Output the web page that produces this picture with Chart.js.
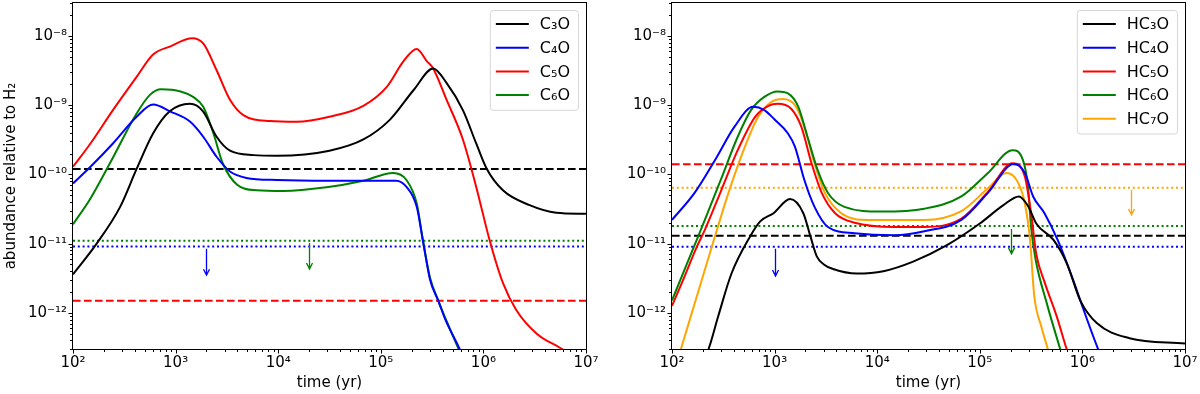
<!DOCTYPE html>
<html>
<head>
<meta charset="utf-8">
<script src="https://cdn.jsdelivr.net/npm/chart.js@4.4.1/dist/chart.umd.min.js"></script>
<style>
  html, body { margin: 0; padding: 0; background: #fff; }
  #wrap { position: relative; width: 1200px; height: 394px; }
  canvas { position: absolute; top: 0; }
</style>
</head>
<body>
<div id="wrap">
  <canvas id="left" width="600" height="394" style="left:0"></canvas>
  <canvas id="right" width="600" height="394" style="left:600px"></canvas>
</div>
<script>
// axes
const xMin = 1e2, xMax = 1e7;
const yMin = 3e-13, yMax = 3e-8;
const xTicks = [1e2, 1e3, 1e4, 1e5, 1e6, 1e7];
const yTicks = [1e-12, 1e-11, 1e-10, 1e-9, 1e-8];

// left panel: C3O..C6O
const leftLabels = ['C₃O', 'C₄O', 'C₅O', 'C₆O'];
const c3oT = [100, 170, 288, 417, 603, 871, 1380, 1860, 2510, 3390, 5750, 9800, 31600, 67600, 123000, 209000, 324000, 437000, 631000, 851000, 1070000, 1550000, 2820000, 5130000, 1e7];
const c3oY = [3.6e-12, 1.0e-11, 3.4e-11, 1.2e-10, 3.9e-10, 8.1e-10, 1.05e-9, 8.1e-10, 3.5e-10, 2.2e-10, 1.9e-10, 1.86e-10, 2.2e-10, 3.2e-10, 6.2e-10, 1.66e-9, 3.4e-9, 2.1e-9, 8.5e-10, 2.8e-10, 1.23e-10, 5.9e-11, 3.6e-11, 2.8e-11, 2.7e-11];
const c4oT = [100, 148, 245, 417, 603, 891, 1380, 1860, 2510, 3390, 4900, 9800, 31600, 141000, 178000, 224000, 257000, 302000, 363000, 427000, 575000, 708000];
const c4oY = [7.4e-11, 1.29e-10, 2.8e-10, 6.8e-10, 1.02e-9, 8.1e-10, 5.8e-10, 3.5e-10, 1.8e-10, 1.1e-10, 8.9e-11, 8.3e-11, 8.1e-11, 8.1e-11, 6.6e-11, 3.4e-11, 1.12e-11, 3.0e-12, 1.5e-12, 7.9e-13, 3.2e-13, 1.6e-13];
const c5oT = [100, 148, 245, 417, 603, 891, 1450, 1860, 2510, 3390, 4570, 8300, 15100, 31600, 67600, 115000, 166000, 224000, 282000, 324000, 437000, 631000, 851000, 1150000, 1550000, 2090000, 3310000, 5620000, 1e7];
const c5oY = [1.29e-10, 2.8e-10, 8.5e-10, 2.57e-9, 5.4e-9, 7.1e-9, 9.3e-9, 7.8e-9, 3.2e-9, 1.2e-9, 7.2e-10, 5.9e-10, 5.75e-10, 6.8e-10, 9.8e-10, 1.86e-9, 4.3e-9, 6.5e-9, 4.3e-9, 3.4e-9, 1.2e-9, 3.2e-10, 6.6e-11, 1.12e-11, 2.7e-12, 1.1e-12, 5.0e-13, 3.1e-13, 1.8e-13];
const c6oT = [100, 148, 229, 417, 562, 724, 1120, 1480, 1860, 2340, 2880, 3980, 6170, 11200, 29500, 67600, 132000, 178000, 224000, 257000, 302000, 363000, 427000, 562000, 692000];
const c6oY = [1.9e-11, 4.5e-11, 1.45e-10, 7.6e-10, 1.41e-9, 1.7e-9, 1.58e-9, 1.32e-9, 9.5e-10, 3.9e-10, 1.45e-10, 7.1e-11, 5.9e-11, 5.75e-11, 6.5e-11, 8.1e-11, 1.05e-10, 8.3e-11, 3.8e-11, 1.12e-11, 3.2e-12, 1.5e-12, 8.3e-13, 3.2e-13, 1.6e-13];
const leftLimits = [1.2e-10, 9.1e-12, 1.5e-12, 1.1e-11];
const leftArrowT = [2000, 20000];
const leftArrowFrom = [8.4e-12, 1.02e-11];
const leftArrowTo = [3.5e-12, 4.3e-12];
const leftArrowSeries = [1, 3];

// right panel: HC3O..HC7O
const rightLabels = ['HC₃O', 'HC₄O', 'HC₅O', 'HC₆O', 'HC₇O'];
const hc3oT = [100, 229, 282, 380, 575, 724, 977, 1413, 1905, 2239, 2570, 3020, 3715, 6310, 11480, 22390, 47860, 100000, 169800, 239900, 295100, 354800, 524800, 707900, 955000, 1380000, 2880000, 1e7];
const hc3oY = [2.0e-14, 3.1e-13, 8.9e-13, 3.7e-12, 1.26e-11, 2.1e-11, 2.75e-11, 4.4e-11, 2.75e-11, 1.26e-11, 6.6e-12, 5.0e-12, 4.3e-12, 3.7e-12, 4.0e-12, 5.5e-12, 9.5e-12, 1.95e-11, 3.6e-11, 4.8e-11, 3.5e-11, 1.95e-11, 1.12e-11, 5.1e-12, 1.5e-12, 7.1e-13, 4.3e-13, 3.6e-13];
const hc4oT = [100, 166, 263, 407, 617, 794, 1000, 1350, 1580, 1950, 2450, 3310, 6030, 14800, 28800, 66100, 120000, 214000, 275000, 331000, 427000, 575000, 832000, 955000, 1410000, 1780000];
const hc4oY = [2.2e-11, 5.4e-11, 1.62e-10, 4.9e-10, 9.5e-10, 8.5e-10, 6.2e-10, 3.9e-10, 2.5e-10, 8.3e-11, 3.4e-11, 1.74e-11, 1.41e-11, 1.32e-11, 1.51e-11, 2.2e-11, 5.4e-11, 1.41e-10, 1.05e-10, 4.8e-11, 2.75e-11, 1.12e-11, 2.7e-12, 1.5e-12, 3.1e-13, 1.4e-13];
const hc5oT = [100, 126, 174, 209, 302, 437, 646, 871, 1070, 1450, 1820, 2290, 2880, 3890, 6030, 14800, 28800, 66100, 120000, 209000, 275000, 316000, 355000, 427000, 562000, 692000, 832000];
const hc5oY = [1.26e-12, 2.8e-12, 8.9e-12, 1.58e-11, 5.9e-11, 2.24e-10, 6.8e-10, 9.8e-10, 1.05e-9, 8.9e-10, 4.9e-10, 1.45e-10, 5.4e-11, 2.75e-11, 2.0e-11, 1.74e-11, 1.74e-11, 2.3e-11, 5.6e-11, 1.45e-10, 9.3e-11, 2.75e-11, 7.1e-12, 2.8e-12, 8.9e-13, 3.2e-13, 1.4e-13];
const hc6oT = [100, 126, 166, 209, 302, 437, 589, 794, 1070, 1350, 1700, 2090, 2630, 3310, 4790, 11000, 28800, 66100, 120000, 209000, 263000, 295000, 316000, 347000, 457000, 603000, 708000];
const hc6oY = [1.51e-12, 3.5e-12, 9.5e-12, 2.2e-11, 8.7e-11, 3.5e-10, 8.5e-10, 1.32e-9, 1.58e-9, 1.48e-9, 9.5e-10, 3.5e-10, 1.15e-10, 5.4e-11, 3.4e-11, 2.9e-11, 3.2e-11, 4.8e-11, 1.05e-10, 2.24e-10, 1.62e-10, 6.6e-11, 1.74e-11, 6.3e-12, 1.26e-12, 3.1e-13, 1.4e-13];
const hc7oT = [100, 123, 166, 263, 355, 513, 692, 933, 1200, 1580, 1950, 2450, 3090, 4470, 8130, 28800, 66100, 120000, 182000, 234000, 275000, 309000, 339000, 398000, 457000, 525000];
const hc7oY = [1.12e-13, 3.1e-13, 1.35e-12, 1.29e-11, 5.4e-11, 2.5e-10, 6.8e-10, 1.12e-9, 1.23e-9, 1.0e-9, 4.9e-10, 1.45e-10, 5.4e-11, 2.75e-11, 2.2e-11, 2.2e-11, 2.95e-11, 6.3e-11, 1.05e-10, 7.8e-11, 3.8e-11, 1.12e-11, 1.78e-12, 6.3e-13, 3.1e-13, 1.4e-13];
const rightLimits = [1.3e-11, 9.0e-12, 1.4e-10, 1.8e-11, 6.4e-11];
const rightArrowT = [1000, 200000, 3000000];
const rightArrowFrom = [8.4e-12, 1.63e-11, 5.96e-11];
const rightArrowTo = [3.4e-12, 7.1e-12, 2.6e-11];
const rightArrowSeries = [1, 3, 4];

// styles
const FONT = '"DejaVu Sans", sans-serif';
const colors = ['#000000', '#0000ff', '#ff0000', '#008000', '#ffa500'];
const DASHED = [7.6, 3.4];
const DOTTED = [2, 2.8];
const limitDash = [DASHED, DOTTED, DASHED, DOTTED, DOTTED];

const sup = {'-': '⁻', '0': '⁰', '1': '¹', '2': '²', '3': '³', '4': '⁴', '5': '⁵', '6': '⁶', '7': '⁷', '8': '⁸', '9': '⁹'};
function powLabel(v) {
  const e = Math.round(Math.log10(v));
  return '10' + String(e).split('').map(c => sup[c]).join('');
}

function curve(label, times, vals, i) {
  return {
    label: label,
    data: times.map((t, k) => ({x: t, y: vals[k]})),
    borderColor: colors[i],
    borderWidth: 2,
    pointRadius: 0,
    cubicInterpolationMode: 'monotone',
    fill: false,
    order: 1
  };
}
function limit(val, i) {
  return {
    label: '',
    data: [{x: xMin, y: val}, {x: xMax, y: val}],
    borderColor: colors[i],
    borderWidth: 2,
    borderDash: limitDash[i],
    pointRadius: 0,
    fill: false,
    order: 2
  };
}

// frame, minor ticks, arrows and legend
const panelPlugin = {
  id: 'panel',
  afterDraw(chart, args, opts) {
    const {ctx, chartArea: a, scales} = chart;
    const xs = scales.x, ys = scales.y;
    ctx.save();

    // upper-limit arrows
    ctx.lineWidth = 1.3;
    opts.arrowT.forEach((t, k) => {
      const px = Math.round(xs.getPixelForValue(t)) + 0.5;
      const y1 = ys.getPixelForValue(opts.arrowFrom[k]);
      const y2 = ys.getPixelForValue(opts.arrowTo[k]);
      ctx.strokeStyle = colors[opts.arrowSeries[k]];
      ctx.beginPath();
      ctx.moveTo(px, y1);
      ctx.lineTo(px, y2);
      ctx.moveTo(px - 3, y2 - 6);
      ctx.lineTo(px, y2);
      ctx.lineTo(px + 3, y2 - 6);
      ctx.stroke();
    });

    // axes box
    const L = a.left - 0.5, R = a.right + 0.5, T = a.top - 0.5, B = a.bottom + 0.5;
    ctx.strokeStyle = '#000';
    ctx.lineWidth = 1;
    ctx.strokeRect(L, T, R - L, B - T);

    // tick marks
    ctx.beginPath();
    for (let e = 2; e <= 7; e++) {
      for (let m = 1; m <= 9; m++) {
        const v = m * Math.pow(10, e);
        if (v > xMax * 1.0001) continue;
        const px = Math.round(xs.getPixelForValue(v)) + 0.5;
        ctx.moveTo(px, B);
        ctx.lineTo(px, B + (m === 1 ? 4 : 2.5));
      }
    }
    for (let e = -13; e <= -8; e++) {
      for (let m = 1; m <= 9; m++) {
        const v = m * Math.pow(10, e);
        if (v < yMin * 0.9999 || v > yMax * 1.0001) continue;
        const py = Math.round(ys.getPixelForValue(v)) + 0.5;
        ctx.moveTo(L, py);
        ctx.lineTo(L - (m === 1 ? 4 : 2.5), py);
      }
    }
    ctx.stroke();

    // legend
    const labels = opts.labels;
    ctx.font = '16px ' + FONT;
    const textW = Math.max(...labels.map(s => ctx.measureText(s).width));
    const rowH = 23.7;
    const boxW = 6 + 33 + 11 + textW + 8;
    const boxH = labels.length * rowH + 5;
    const bx = a.right - 8 - boxW, by = a.top + 7;
    ctx.beginPath();
    ctx.roundRect(bx + 0.5, by + 0.5, boxW, boxH, 3);
    ctx.fillStyle = 'rgba(255,255,255,0.8)';
    ctx.fill();
    ctx.strokeStyle = '#d6d6d6';
    ctx.lineWidth = 1;
    ctx.stroke();
    ctx.textBaseline = 'middle';
    ctx.textAlign = 'left';
    labels.forEach((s, k) => {
      const ry = by + 14 + k * rowH;
      ctx.strokeStyle = colors[k];
      ctx.lineWidth = 2;
      ctx.beginPath();
      ctx.moveTo(bx + 6, ry);
      ctx.lineTo(bx + 39, ry);
      ctx.stroke();
      ctx.fillStyle = '#000';
      ctx.fillText(s, bx + 50, ry + 1);
    });
    ctx.restore();
  }
};

function scaleOpts(yTitle, yWidth) {
  return {
    x: {
      type: 'logarithmic',
      min: xMin,
      max: xMax,
      afterBuildTicks: s => { s.ticks = xTicks.map(v => ({value: v})); },
      afterFit: s => { s.height = 45; s.paddingLeft = 0; s.paddingRight = 0; },
      grid: {display: false, drawTicks: false},
      border: {display: false},
      ticks: {autoSkip: false, maxRotation: 0, padding: 5, color: '#000', font: {family: FONT, size: 15}, callback: v => powLabel(v)},
      title: {display: true, text: 'time (yr)', color: '#000', font: {family: FONT, size: 15}, padding: {top: 0, bottom: 2}}
    },
    y: {
      type: 'logarithmic',
      min: yMin,
      max: yMax,
      afterBuildTicks: s => { s.ticks = yTicks.map(v => ({value: v})); },
      afterFit: s => { s.width = yWidth; s.paddingTop = 0; s.paddingBottom = 0; },
      grid: {display: false, drawTicks: false},
      border: {display: false},
      ticks: {autoSkip: false, padding: 6, color: '#000', font: {family: FONT, size: 15}, callback: v => powLabel(v)},
      title: {display: yTitle !== '', text: yTitle, color: '#000', font: {family: FONT, size: 15}, padding: {top: 2, bottom: 0}}
    }
  };
}

function makeChart(id, datasets, yTitle, yWidth, padRight, plug) {
  return new Chart(document.getElementById(id), {
    type: 'line',
    data: {datasets: datasets},
    options: {
      responsive: false,
      animation: false,
      devicePixelRatio: 1,
      layout: {padding: {left: 0, right: padRight, top: 3, bottom: 0}},
      scales: scaleOpts(yTitle, yWidth),
      plugins: {legend: {display: false}, tooltip: {enabled: false}, panel: plug}
    },
    plugins: [panelPlugin]
  });
}

const leftSets = [
  curve(leftLabels[0], c3oT, c3oY, 0),
  curve(leftLabels[1], c4oT, c4oY, 1),
  curve(leftLabels[2], c5oT, c5oY, 2),
  curve(leftLabels[3], c6oT, c6oY, 3)
].concat(leftLimits.map((v, i) => limit(v, i)));

const rightSets = [
  curve(rightLabels[0], hc3oT, hc3oY, 0),
  curve(rightLabels[1], hc4oT, hc4oY, 1),
  curve(rightLabels[2], hc5oT, hc5oY, 2),
  curve(rightLabels[3], hc6oT, hc6oY, 3),
  curve(rightLabels[4], hc7oT, hc7oY, 4)
].concat(rightLimits.map((v, i) => limit(v, i)));

makeChart('left', leftSets, 'abundance relative to H₂', 73, 14,
  {labels: leftLabels, arrowT: leftArrowT, arrowFrom: leftArrowFrom, arrowTo: leftArrowTo, arrowSeries: leftArrowSeries});
makeChart('right', rightSets, '', 72, 15,
  {labels: rightLabels, arrowT: rightArrowT, arrowFrom: rightArrowFrom, arrowTo: rightArrowTo, arrowSeries: rightArrowSeries});
</script>
</body>
</html>
